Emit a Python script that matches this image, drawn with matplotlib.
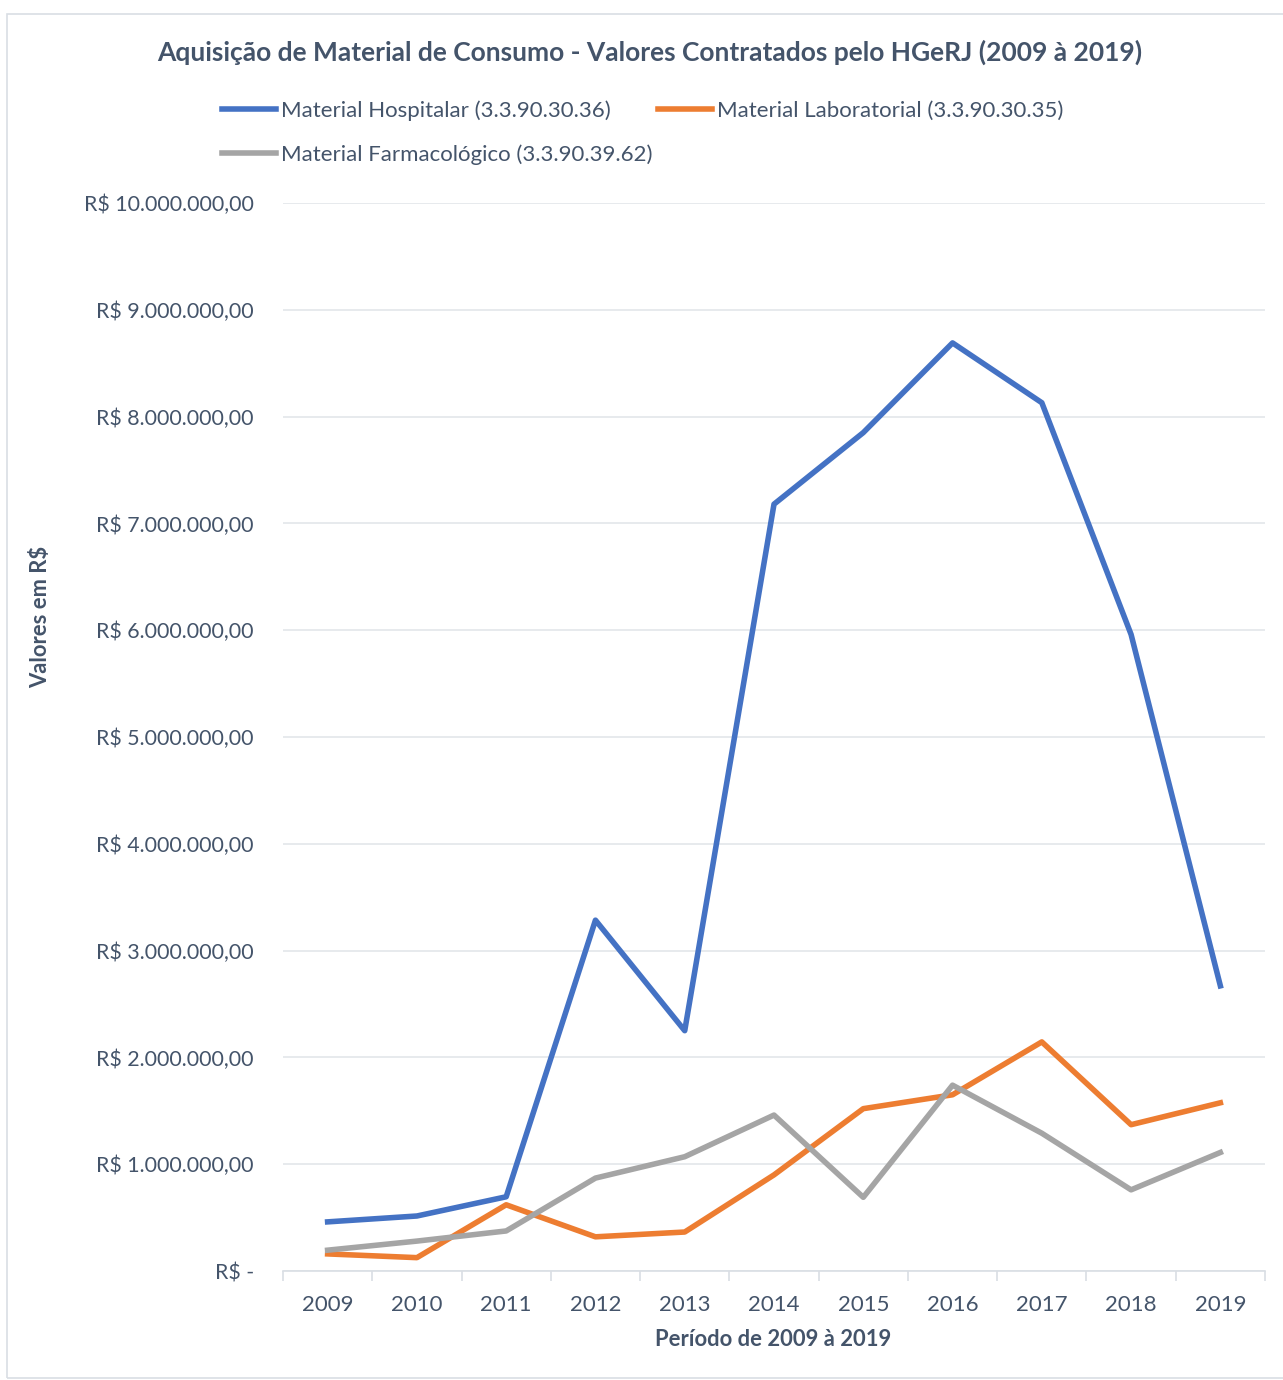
import numpy as np
import matplotlib.pyplot as plt
from matplotlib.ticker import FuncFormatter, MultipleLocator
from matplotlib.patches import Rectangle

plt.rcParams['font.family'] = ['Lato', 'DejaVu Sans']

# data (values in R$)
years = ['2009', '2010', '2011', '2012', '2013', '2014', '2015', '2016', '2017', '2018', '2019']
hospitalar = [460000, 515000, 695000, 3285000, 2250000, 7180000, 7850000, 8690000, 8130000, 5960000, 2670000]
laboratorial = [160000, 125000, 620000, 320000, 365000, 900000, 1520000, 1650000, 2145000, 1370000, 1575000]
farmacologico = [195000, 280000, 375000, 870000, 1070000, 1460000, 690000, 1740000, 1290000, 760000, 1110000]

labels = ['Material Hospitalar (3.3.90.30.36)',
          'Material Laboratorial (3.3.90.30.35)',
          'Material Farmacológico (3.3.90.39.62)']
colors = ['#4472C4', '#ED7D31', '#A5A5A5']
txt = '#44546A'


def brl(v, pos):
    if v == 0:
        return 'R$ -'
    s = '{:,.2f}'.format(v).replace(',', 'X').replace('.', ',').replace('X', '.')
    return 'R$ ' + s


W, H = 1283, 1380
fig = plt.figure(figsize=(W / 100, H / 100), dpi=100)
fig.patches.append(Rectangle((7 / W, 2 / H), 1.2, 1 - 16 / H, transform=fig.transFigure,
                             fill=False, ec='#D9DEE4', lw=1.2))

ax = fig.add_axes([283 / W, 1 - 1271 / H, (1265 - 283) / W, (1271 - 203) / H])
x = np.arange(len(years))
lines = []
for vals, c, lab in zip([hospitalar, laboratorial, farmacologico], colors, labels):
    l, = ax.plot(x, vals, color=c, lw=4.0, label=lab, solid_joinstyle='round', zorder=3)
    lines.append(l)

ax.set_xlim(-0.5, len(years) - 0.5)
ax.set_ylim(0, 10000000)
ax.yaxis.set_major_locator(MultipleLocator(1000000))
ax.yaxis.set_major_formatter(FuncFormatter(brl))
ax.grid(axis='y', color='#E3E6EA', lw=1.2, zorder=0)
for s in ['top', 'right', 'left']:
    ax.spines[s].set_visible(False)
ax.spines['bottom'].set_color('#D9DEE4')
ax.spines['bottom'].set_linewidth(1.2)

ax.set_xticks(x)
ax.set_xticklabels(years)
ax.set_xticks(np.arange(-0.5, len(years)), minor=True)
ax.tick_params(axis='x', which='major', length=0, pad=17, labelsize=16, labelcolor=txt)
ax.tick_params(axis='x', which='minor', length=7, width=1.2, color='#D9DEE4', direction='out')
ax.tick_params(axis='y', length=0, pad=21, labelsize=15.4, labelcolor=txt)

fig.text(650 / W, 1 - 52 / H, 'Aquisição de Material de Consumo - Valores Contratados pelo HGeRJ (2009 à 2019)',
         ha='center', va='center', fontsize=19, fontweight='bold', color=txt)
fig.text(773 / W, 1 - 1339 / H, 'Período de 2009 à 2019', ha='center', va='center',
         fontsize=15.8, fontweight='bold', color=txt)
fig.text(41 / W, 1 - 617 / H, 'Valores em R$', ha='center', va='center', rotation=90,
         fontsize=15.8, fontweight='bold', color=txt)

# row-major order: hospitalar, laboratorial / farmacologico
leg = fig.legend(handles=[lines[0], lines[2], lines[1]], loc='upper left',
                 bbox_to_anchor=(222 / W, 1 - 100 / H), ncol=2, borderpad=0, borderaxespad=0,
                 frameon=False, fontsize=16, handlelength=2.45, handletextpad=0.2,
                 columnspacing=0.25, labelspacing=1.08, labelcolor=txt)

plt.savefig('out.png', dpi=100)
plt.close()
